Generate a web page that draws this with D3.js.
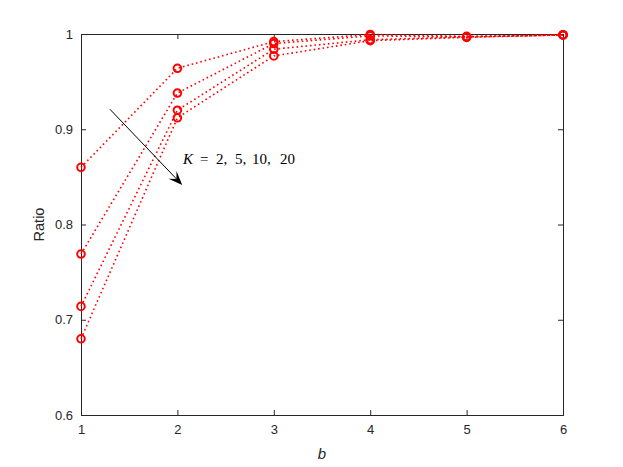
<!DOCTYPE html>
<html><head><meta charset="utf-8">
<script src="https://cdn.jsdelivr.net/npm/d3@7"></script>
<style>body{margin:0;background:#fff}</style>
</head><body>
<svg id="c" width="623" height="467"></svg>
<script>
const bValues = [1, 2, 3, 4, 5, 6];
const kLabels = ["K=2", "K=5", "K=10", "K=20"];
const ratioK2  = [0.860, 0.964, 0.992, 0.9995, 0.9975, 0.999];
const ratioK5  = [0.769, 0.938, 0.990, 0.998, 0.997, 0.999];
const ratioK10 = [0.714, 0.920, 0.984, 0.994, 0.997, 0.999];
const ratioK20 = [0.680, 0.912, 0.977, 0.993, 0.9965, 0.999];
const seriesList = [ratioK2, ratioK5, ratioK10, ratioK20];
const xTicks = [1, 2, 3, 4, 5, 6];
const yTicks = [0.6, 0.7, 0.8, 0.9, 1];
const arrowFrom = [1.3, 0.921];
const arrowTo = [2.05, 0.8415];

const svg = d3.select("#c");
const L = 81, R = 563, T = 34, B = 415;
const x = d3.scaleLinear().domain([1, 6]).range([L, R]);
const y = d3.scaleLinear().domain([0.6, 1]).range([B, T]);
const axisColor = "#262626";
const font = "'Liberation Sans', Arial, Helvetica, sans-serif";
const serif = "'Liberation Serif', 'Times New Roman', serif";

function styleAxis(g) {
  g.select(".domain").attr("stroke", axisColor).attr("stroke-width", 1);
  g.selectAll(".tick line").attr("stroke", axisColor).attr("stroke-width", 1);
  g.selectAll(".tick text").attr("fill", axisColor).attr("font-family", font).attr("font-size", 13);
}
const fmt = d => d === 1 ? "1" : d3.format(".1f")(d);
svg.append("g").attr("transform", `translate(0,${B})`)
  .call(d3.axisBottom(x).tickValues(xTicks).tickSize(-5).tickPadding(10).tickFormat(d3.format("d")))
  .call(styleAxis);
svg.append("g").attr("transform", `translate(0,${T})`)
  .call(d3.axisTop(x).tickValues(xTicks).tickSize(-5).tickFormat(""))
  .call(styleAxis);
svg.append("g").attr("transform", `translate(${L},0)`)
  .call(d3.axisLeft(y).tickValues(yTicks).tickSize(-5).tickPadding(8).tickFormat(fmt))
  .call(styleAxis);
svg.append("g").attr("transform", `translate(${R},0)`)
  .call(d3.axisRight(y).tickValues(yTicks).tickSize(-5).tickFormat(""))
  .call(styleAxis);

// lines
const line = d3.line().x((d, i) => x(bValues[i])).y(d => y(d));
const g = svg.append("g");
seriesList.forEach(s => {
  g.append("path").datum(s).attr("d", line)
    .attr("fill", "none").attr("stroke", "#ff0000").attr("stroke-width", 1.6)
    .attr("stroke-dasharray", "1.6,2.9");
  g.selectAll(null).data(s).enter().append("circle")
    .attr("cx", (d, i) => x(bValues[i])).attr("cy", d => y(d)).attr("r", 3.8)
    .attr("fill", "none").attr("stroke", "#ff0000").attr("stroke-width", 2);
});

// arrow
const x1 = x(arrowFrom[0]), y1 = y(arrowFrom[1]), x2 = x(arrowTo[0]), y2 = y(arrowTo[1]);
const ang = Math.atan2(y2 - y1, x2 - x1);
const hl = 14, hw = 5.5;
const bx = x2 - hl * Math.cos(ang), by = y2 - hl * Math.sin(ang);
const nx = -Math.sin(ang), ny = Math.cos(ang);
const mx = x2 - hl * 0.6 * Math.cos(ang), my = y2 - hl * 0.6 * Math.sin(ang);
svg.append("line").attr("x1", x1).attr("y1", y1).attr("x2", mx).attr("y2", my)
  .attr("stroke", "#000").attr("stroke-width", 1);
svg.append("path")
  .attr("d", `M${x2},${y2} L${bx + nx * hw},${by + ny * hw} L${mx},${my} L${bx - nx * hw},${by - ny * hw} Z`)
  .attr("fill", "#000");

// annotation text
const ann = svg.append("text").attr("y", 164)
  .attr("font-family", serif).attr("font-size", 15).attr("fill", "#000");
ann.append("tspan").attr("x", 183).attr("font-style", "italic").text("K");
ann.append("tspan").attr("x", 200).text("=");
ann.append("tspan").attr("x", 216).text("2,");
ann.append("tspan").attr("x", 235).text("5,");
ann.append("tspan").attr("x", 252).text("10,");
ann.append("tspan").attr("x", 280).text("20");

// axis labels
svg.append("text").attr("transform", `translate(44,${(T + B) / 2}) rotate(-90)`)
  .attr("text-anchor", "middle").attr("font-family", font).attr("font-size", 14.5)
  .attr("fill", axisColor).text("Ratio");
svg.append("text").attr("x", (L + R) / 2).attr("y", 459)
  .attr("text-anchor", "middle").attr("font-family", font).attr("font-size", 15)
  .attr("font-style", "italic").attr("fill", axisColor).text("b");
</script>
</body></html>
